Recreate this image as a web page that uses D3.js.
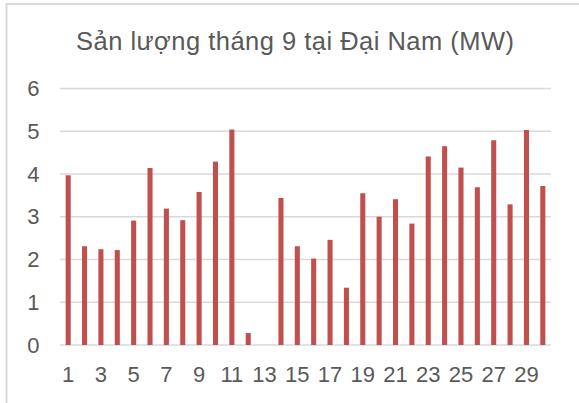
<!DOCTYPE html>
<html>
<head>
<meta charset="utf-8">
<script src="https://cdn.jsdelivr.net/npm/d3@7"></script>
<style>
html,body{margin:0;padding:0;background:#fff;}
svg{display:block;}
</style>
</head>
<body>
<svg id="chart" width="579" height="403"></svg>
<script>
const days = d3.range(1, 31).map(String);
const values = [3.97,2.31,2.24,2.22,2.91,4.14,3.19,2.92,3.58,4.29,5.04,0.28,0,3.44,2.31,
                2.02,2.46,1.34,3.55,3.00,3.41,2.84,4.41,4.65,4.15,3.69,4.79,3.29,5.03,3.72];
const yTicks = [0,1,2,3,4,5,6];
const xTickLabels = days.filter((d,i)=>i%2===0);
const title = "Sản lượng tháng 9 tại Đại Nam (MW)";

const svg = d3.select("#chart");
const font = "Arial, 'Liberation Sans', sans-serif";
const textColor = "#595959";

// chart border
svg.append("rect").attr("x",6.5).attr("y",4).attr("width",580).attr("height",420)
  .attr("fill","#fff").attr("stroke","#d9d9d9").attr("stroke-width",2);

const m = {left:60, right:28, top:88.5, bottom:58};
const W = 579, H = 403;
const x = d3.scaleBand().domain(days).range([m.left, W-m.right]).paddingInner(0.69).paddingOuter(0.345);
const y = d3.scaleLinear().domain([0,6]).range([H-m.bottom, m.top]);

// gridlines
svg.append("g").selectAll("line").data(yTicks).join("line")
  .attr("x1",m.left).attr("x2",W-m.right)
  .attr("y1",d=>y(d)).attr("y2",d=>y(d))
  .attr("stroke","#d9d9d9").attr("stroke-width",1.3);

// bars
svg.append("g").selectAll("rect").data(values).join("rect")
  .attr("x",(d,i)=>x(days[i]))
  .attr("width",x.bandwidth())
  .attr("y",d=>y(d))
  .attr("height",d=>y(0)-y(d))
  .attr("fill","#c0504d");

// y axis
const yAxis = d3.axisLeft(y).tickValues(yTicks).tickFormat(d3.format("d")).tickSize(0).tickPadding(0);
const yg = svg.append("g").attr("transform",`translate(39.5,0)`).call(yAxis);
yg.select(".domain").remove();
yg.selectAll("text").attr("font-family",font).attr("font-size",22).attr("fill",textColor);

// x axis
const xAxis = d3.axisBottom(x).tickValues(xTickLabels).tickSize(0).tickPadding(0);
const xg = svg.append("g").attr("transform",`translate(0,${y(0)+21.5})`).call(xAxis);
xg.select(".domain").remove();
xg.selectAll("text").attr("font-family",font).attr("font-size",22).attr("fill",textColor);

// title
svg.append("text").attr("x",295).attr("y",50).attr("text-anchor","middle")
  .attr("font-family",font).attr("font-size",25.5).attr("fill",textColor)
  .attr("textLength",438).attr("lengthAdjust","spacing").text(title);
</script>
</body>
</html>
